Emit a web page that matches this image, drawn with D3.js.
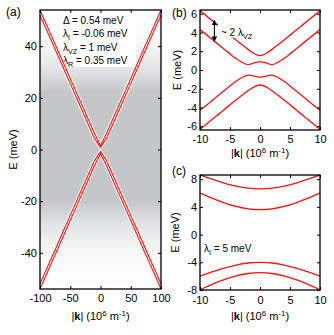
<!DOCTYPE html>
<html>
<head>
<meta charset="utf-8">
<script src="https://cdn.jsdelivr.net/npm/d3@7/dist/d3.min.js"></script>
<style>
  body { margin: 0; background: #fff; }
  svg { display: block; font-family: "Liberation Sans", Arial, sans-serif; }
</style>
</head>
<body>
<script>
// ---- data ----
// (a) wide k range, 10^6 m^-1 ; energies in meV
const kA = [-100, -90, -80, -70, -60, -50, -40, -30, -20, -10, 0, 10, 20, 30, 40, 50, 60, 70, 80, 90, 100];
const aUpperOuter = [54.0, 48.7, 43.4, 38.1, 32.8, 27.5, 22.2, 16.9, 11.6, 6.3, 1.5, 6.3, 11.6, 16.9, 22.2, 27.5, 32.8, 38.1, 43.4, 48.7, 54.0];
const aUpperInner = [52.0, 46.7, 41.4, 36.1, 30.8, 25.5, 20.2, 14.9, 9.6, 4.3, 0.9, 4.3, 9.6, 14.9, 20.2, 25.5, 30.8, 36.1, 41.4, 46.7, 52.0];
const aLowerInner = [-52.0, -46.7, -41.4, -36.1, -30.8, -25.5, -20.2, -14.9, -9.6, -4.3, -0.8, -4.3, -9.6, -14.9, -20.2, -25.5, -30.8, -36.1, -41.4, -46.7, -52.0];
const aLowerOuter = [-54.0, -48.7, -43.4, -38.1, -32.8, -27.5, -22.2, -16.9, -11.6, -6.3, -1.6, -6.3, -11.6, -16.9, -22.2, -27.5, -32.8, -38.1, -43.4, -48.7, -54.0];

// (b) zoom near k = 0
const kB = [-10, -9, -8, -7, -6, -5, -4, -3, -2, -1, 0, 1, 2, 3, 4, 5, 6, 7, 8, 9, 10];
const bUpperOuter = [6.32, 5.8, 5.28, 4.76, 4.24, 3.72, 3.2, 2.7, 2.2, 1.76, 1.53, 1.76, 2.2, 2.7, 3.2, 3.72, 4.24, 4.76, 5.28, 5.8, 6.32];
const bUpperInner = [4.32, 3.8, 3.28, 2.76, 2.24, 1.72, 1.22, 0.82, 0.57, 0.76, 0.86, 0.76, 0.57, 0.82, 1.22, 1.72, 2.24, 2.76, 3.28, 3.8, 4.32];
const bLowerInner = [-4.3, -3.79, -3.27, -2.74, -2.22, -1.7, -1.2, -0.8, -0.54, -0.65, -0.75, -0.65, -0.54, -0.8, -1.2, -1.7, -2.22, -2.74, -3.27, -3.79, -4.3];
const bLowerOuter = [-6.33, -5.81, -5.28, -4.76, -4.24, -3.72, -3.2, -2.7, -2.22, -1.8, -1.6, -1.8, -2.22, -2.7, -3.2, -3.72, -4.24, -4.76, -5.28, -5.81, -6.33];

// (c) large intrinsic SOC
const kC = [-10, -8, -6, -4, -2, 0, 2, 4, 6, 8, 10];
const cUpperOuter = [8.6, 8.0, 7.44, 6.99, 6.7, 6.6, 6.7, 6.99, 7.44, 8.0, 8.6];
const cUpperInner = [6.0, 5.26, 4.59, 4.06, 3.72, 3.6, 3.72, 4.06, 4.59, 5.26, 6.0];
const cLowerInner = [-6.0, -5.4, -4.85, -4.4, -4.1, -4.0, -4.1, -4.4, -4.85, -5.4, -6.0];
const cLowerOuter = [-7.95, -7.18, -6.51, -5.97, -5.62, -5.5, -5.62, -5.97, -6.51, -7.18, -7.95];

// ticks
const ticksAX = [-100, -50, 0, 50, 100];
const ticksAY = [-40, -20, 0, 20, 40];
const ticksBX = [-10, -5, 0, 5, 10];
const ticksBY = [-6, -4, -2, 0, 2, 4, 6];
const ticksCY = [-8, -4, 0, 4, 8];

// parameter labels in (a)
const paramSymbols = ['Δ', 'λ', 'λ', 'λ'];
const paramSubs = ['', 'I', 'VZ', 'R'];
const paramValues = ['0.54', '-0.06', '1', '0.35'];

const RED = '#ff1010';
const GRAY = '#c5c6c8';

const svg = d3.select('body')
  .append('svg')
  .attr('width', 334)
  .attr('height', 335);

const defs = svg.append('defs');

// text with sub/superscript runs
function richText(parent, x, y, parts, size) {
  const t = parent.append('text')
    .attr('x', x)
    .attr('y', y)
    .style('font-size', size + 'px')
    .attr('fill', '#000');
  let cur = 0;
  parts.forEach(p => {
    const target = p.sub ? size * 0.3 : p.sup ? -size * 0.4 : 0;
    const s = t.append('tspan').text(p.t).attr('dy', target - cur);
    cur = target;
    if (p.sub || p.sup) s.style('font-size', (size * 0.72) + 'px');
    if (p.bold) s.style('font-weight', 'bold');
  });
  return t;
}

const kLabel = [{ t: '|' }, { t: 'k', bold: true }, { t: '| (10' }, { t: '6', sup: true },
  { t: ' m' }, { t: '-1', sup: true }, { t: ')' }];

// one framed panel with inward ticks on all sides
function makePanel(xRange, yRange, xDom, yDom, xTicks, yTicks, xPad) {
  const x = d3.scaleLinear().domain(xDom).range(xRange);
  const y = d3.scaleLinear().domain(yDom).range(yRange);
  const g = svg.append('g');
  const marks = g.append('g');
  const axes = g.append('g');
  const fmt = d => String(d);
  const clean = s => {
    s.select('.domain').remove();
    s.selectAll('text').style('font-size', '11px').style('font-family', '"Liberation Sans", Arial, sans-serif').attr('fill', '#000');
    s.selectAll('line').attr('stroke', '#000');
  };
  axes.append('g').attr('transform', `translate(${xRange[0]},0)`)
    .call(d3.axisLeft(y).tickValues(yTicks).tickSize(-3).tickPadding(3).tickFormat(fmt)).call(clean);
  axes.append('g').attr('transform', `translate(${xRange[1]},0)`)
    .call(d3.axisRight(y).tickValues(yTicks).tickSize(-3).tickFormat('')).call(clean);
  axes.append('g').attr('transform', `translate(0,${yRange[0]})`)
    .call(d3.axisBottom(x).tickValues(xTicks).tickSize(-3).tickPadding(xPad || 5).tickFormat(fmt)).call(clean);
  axes.append('g').attr('transform', `translate(0,${yRange[1]})`)
    .call(d3.axisTop(x).tickValues(xTicks).tickSize(-3).tickFormat('')).call(clean);
  axes.append('rect')
    .attr('x', xRange[0]).attr('y', yRange[1])
    .attr('width', xRange[1] - xRange[0]).attr('height', yRange[0] - yRange[1])
    .attr('fill', 'none').attr('stroke', '#000').attr('stroke-width', 1.3);
  return { x, y, g, marks, axes };
}

// ---------- panel (a) ----------
const pA = makePanel([40, 161], [289, 10], [-100, 100], [-54, 54], ticksAX, ticksAY);

// grey band around E = 0
const grad = defs.append('linearGradient').attr('id', 'bg')
  .attr('gradientUnits', 'userSpaceOnUse')
  .attr('x1', 0).attr('x2', 0).attr('y1', pA.y(54)).attr('y2', pA.y(-54));
const stops = [[54, '#ffffff'], [42, '#fafafa'], [31, '#e2e3e4'], [22, GRAY], [-20, GRAY], [-29, '#e2e3e4'], [-41, '#fafafa'], [-54, '#ffffff']];
stops.forEach(([e, c]) => grad.append('stop')
  .attr('offset', (pA.y(e) - pA.y(54)) / (pA.y(-54) - pA.y(54)))
  .attr('stop-color', c));
pA.marks.append('rect')
  .attr('x', pA.x(-100)).attr('y', pA.y(54))
  .attr('width', pA.x(100) - pA.x(-100)).attr('height', pA.y(-54) - pA.y(54))
  .attr('fill', 'url(#bg)');

// parameter box
pA.marks.append('rect').attr('x', 60).attr('y', 13).attr('width', 76).attr('height', 54).attr('fill', '#fff');
paramSymbols.forEach((s, i) => {
  const parts = [{ t: s }];
  if (paramSubs[i]) parts.push({ t: paramSubs[i], sub: true });
  parts.push({ t: ' = ' + paramValues[i] + ' meV' });
  richText(pA.marks, 63, 24 + i * 13.4, parts, 10);
});

const bandsA = [aUpperOuter, aUpperInner, aLowerInner, aLowerOuter];
const lineA = d3.line().x((d, i) => pA.x(kA[i])).y(d => pA.y(d));
bandsA.forEach(es => pA.marks.append('path').datum(es).attr('d', lineA)
  .attr('fill', 'none').attr('stroke', '#fff').attr('stroke-width', 3.2));
bandsA.forEach(es => pA.marks.append('path').datum(es).attr('d', lineA)
  .attr('fill', 'none').attr('stroke', RED).attr('stroke-width', 1.1));

richText(svg, 6, 16, [{ t: '(a)' }], 12);
svg.append('text').attr('transform', `translate(17,${(pA.y(54) + pA.y(-54)) / 2}) rotate(-90)`)
  .attr('text-anchor', 'middle').style('font-size', '11px').text('E (meV)');
richText(svg, 100.5, 320, kLabel, 11).attr('text-anchor', 'middle');

// ---------- panel (b) ----------
const pB = makePanel([200, 320], [130, 10], [-10, 10], [-6.4, 6.4], ticksBX, ticksBY);
const lineB = d3.line().x((d, i) => pB.x(kB[i])).y(d => pB.y(d)).curve(d3.curveNatural);
[bUpperOuter, bUpperInner, bLowerInner, bLowerOuter].forEach(es =>
  pB.marks.append('path').datum(es).attr('d', lineB)
    .attr('fill', 'none').attr('stroke', RED).attr('stroke-width', 1.3));

// 2 lambda_VZ annotation
const arrowK = -7.6;
defs.append('marker').attr('id', 'ah').attr('viewBox', '0 0 10 10')
  .attr('refX', 9).attr('refY', 5).attr('markerWidth', 5).attr('markerHeight', 5)
  .attr('orient', 'auto-start-reverse')
  .append('path').attr('d', 'M0,0L10,5L0,10z').attr('fill', '#000');
pB.marks.append('line')
  .attr('x1', pB.x(arrowK)).attr('x2', pB.x(arrowK))
  .attr('y1', pB.y(3.05)).attr('y2', pB.y(5.3))
  .attr('stroke', '#000').attr('stroke-width', 1.1)
  .attr('marker-start', 'url(#ah)').attr('marker-end', 'url(#ah)');
pB.marks.append('rect').attr('x', 218).attr('y', 24).attr('width', 42).attr('height', 13.5).attr('fill', '#fff');
richText(pB.marks, 221, 35.5, [{ t: '~ 2 λ' }, { t: 'VZ', sub: true }], 10);

richText(svg, 172, 17, [{ t: '(b)' }], 12);
svg.append('text').attr('transform', `translate(181,${(pB.y(6.4) + pB.y(-6.4)) / 2}) rotate(-90)`)
  .attr('text-anchor', 'middle').style('font-size', '11px').text('E (meV)');
richText(svg, 260, 157, kLabel, 11).attr('text-anchor', 'middle');

// ---------- panel (c) ----------
const pC = makePanel([200, 320], [290, 175], [-10, 10], [-8, 8.6], ticksBX, ticksCY, 6);
const lineC = d3.line().x((d, i) => pC.x(kC[i])).y(d => pC.y(d)).curve(d3.curveNatural);
[cUpperOuter, cUpperInner, cLowerInner, cLowerOuter].forEach(es =>
  pC.marks.append('path').datum(es).attr('d', lineC)
    .attr('fill', 'none').attr('stroke', RED).attr('stroke-width', 1.3));
richText(pC.marks, 204, 252, [{ t: 'λ' }, { t: 'I', sub: true }, { t: ' = 5 meV' }], 10);

richText(svg, 172, 175, [{ t: '(c)' }], 12);
svg.append('text').attr('transform', `translate(179,${(pC.y(8.6) + pC.y(-8)) / 2}) rotate(-90)`)
  .attr('text-anchor', 'middle').style('font-size', '11px').text('E (meV)');
richText(svg, 260, 320, kLabel, 11).attr('text-anchor', 'middle');
</script>
</body>
</html>
